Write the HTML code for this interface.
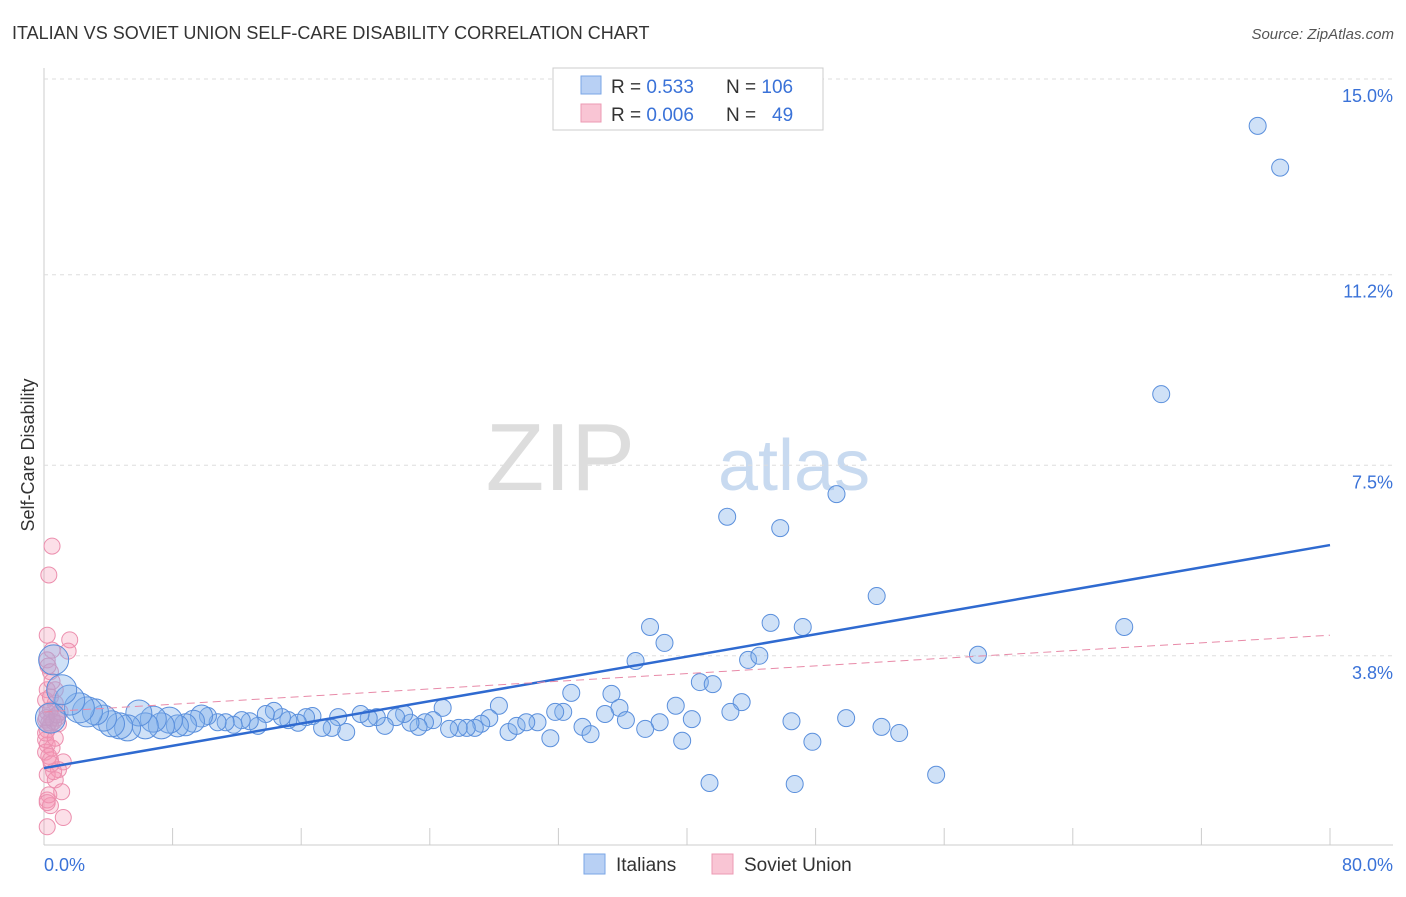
<!DOCTYPE html>
<html><head><meta charset="utf-8"><style>
body{margin:0;background:#fff;font-family:"Liberation Sans",sans-serif;}
svg text{font-family:"Liberation Sans",sans-serif;}
</style></head><body>
<svg id="chart" width="1406" height="892" viewBox="0 0 1406 892" xmlns="http://www.w3.org/2000/svg">
<text x="12" y="39" font-size="18" fill="#333">ITALIAN VS SOVIET UNION SELF-CARE DISABILITY CORRELATION CHART</text>
<text x="1394" y="39" font-size="15" fill="#555" font-style="italic" text-anchor="end">Source: ZipAtlas.com</text>
<text x="635" y="490" font-size="96" fill="#ddd" text-anchor="end" font-family="Liberation Serif">ZIP</text>
<text x="718" y="490" font-size="72" fill="#c8daf0">atlas</text>
<g id="grid"></g><g id="marks"></g>
<text transform="translate(34,455) rotate(-90)" font-size="18" fill="#333" text-anchor="middle">Self-Care Disability</text>
<g>
<rect x="553" y="68" width="270" height="62" fill="#fff" stroke="#ccc"/>
<rect x="581" y="76" width="20" height="18" fill="#b8d0f4" stroke="#7aa6e6"/>
<rect x="581" y="104" width="20" height="18" fill="#f9c5d4" stroke="#ec9ab3"/>
<text x="611" y="93" font-size="19" fill="#333">R = <tspan fill="#3a72d8">0.533</tspan><tspan x="726">N = </tspan><tspan fill="#3a72d8">106</tspan></text>
<text x="611" y="121" font-size="19" fill="#333">R = <tspan fill="#3a72d8">0.006</tspan><tspan x="726">N = </tspan><tspan fill="#3a72d8" x="772">49</tspan></text>
</g>
<g>
<rect x="584" y="854" width="21" height="20" fill="#b8d0f4" stroke="#7aa6e6"/>
<text x="616" y="871" font-size="19" fill="#333">Italians</text>
<rect x="712" y="854" width="21" height="20" fill="#f9c5d4" stroke="#ec9ab3"/>
<text x="744" y="871" font-size="19" fill="#333">Soviet Union</text>
</g>
</svg>
<script>
const yTicks=[3.8,7.5,11.2,15.0];
const yTickLabels=["3.8%","7.5%","11.2%","15.0%"];
const xTickLabels=["0.0%","80.0%"];
const italianX=[75.5,76.9,69.5,49.3,42.5,45.8,51.8,67.2,45.2,47.2,37.7,38.6,36.8,43.8,44.5,58.1,40.8,41.6,32.8,35.3,28.3,24.8,39.3,43.4,35.8,42.7,34.9,32.3,31.8,40.3,36.2,38.3,46.5,49.9,52.1,53.2,33.5,34.0,37.4,39.7,47.8,31.5,28.9,29.4,30.7,30.0,27.7,27.2,26.8,26.3,25.8,25.2,24.2,23.7,23.3,22.8,22.4,21.9,21.2,20.7,20.2,19.7,18.8,18.3,17.9,17.3,16.7,16.3,15.8,15.2,14.8,14.3,13.8,13.3,12.8,12.3,11.8,11.3,10.8,10.2,9.8,9.3,8.8,8.3,7.8,7.3,6.8,6.3,5.9,5.2,4.7,4.2,3.7,3.2,2.7,2.2,1.6,1.1,0.6,0.4,55.5,41.4,46.7];
const italianY=[14.09,13.28,8.88,6.94,6.50,6.28,4.96,4.36,4.44,4.36,4.36,4.05,3.70,3.72,3.80,3.82,3.29,3.25,3.08,3.06,2.83,2.79,2.83,2.90,2.79,2.71,2.67,2.71,2.71,2.57,2.55,2.51,2.53,2.59,2.42,2.30,2.42,2.28,2.38,2.15,2.13,2.20,2.32,2.44,2.51,2.51,2.59,2.48,2.40,2.40,2.40,2.38,2.55,2.51,2.42,2.50,2.67,2.61,2.44,2.61,2.59,2.67,2.32,2.61,2.40,2.40,2.63,2.61,2.50,2.55,2.61,2.73,2.67,2.44,2.53,2.55,2.46,2.51,2.51,2.63,2.63,2.53,2.46,2.44,2.55,2.44,2.57,2.44,2.69,2.40,2.44,2.48,2.59,2.71,2.71,2.79,2.94,3.14,3.72,2.59,1.49,1.33,1.31];
const sovietX=[0.5,0.3,0.2,1.6,1.5,0.5,0.2,0.4,0.2,0.1,0.7,0.2,0.5,0.8,0.1,0.4,0.2,0.5,0.1,0.4,1.2,0.9,0.2,0.7,1.1,0.2,0.4,1.2,0.2,0.4,0.2,0.7,1.0,0.1,0.3,0.3,0.6,0.9,0.15,0.5,0.3,0.6,0.2,0.8,0.4,0.1,0.7,0.25,0.45];
const sovietY=[5.93,5.37,4.20,4.11,3.89,3.91,3.72,3.49,3.14,2.94,2.88,2.71,2.59,2.59,2.55,2.46,2.07,2.01,1.93,1.78,1.74,1.59,1.49,1.39,1.16,1.00,0.89,0.66,0.48,2.75,2.36,3.14,2.71,2.17,1.10,2.50,2.52,2.48,2.60,3.30,1.85,1.55,0.95,2.65,3.00,2.30,2.20,3.60,1.70];
const italianTrend=[1.62,5.95];
const sovietTrend=[2.71,4.20];
const xs=v=>44+v*16.075, ys=v=>851.5-v*51.5;
const NS="http://www.w3.org/2000/svg";
function mk(t,a,p){const e=document.createElementNS(NS,t);for(const k in a)e.setAttribute(k,a[k]);p.appendChild(e);return e;}
const grid=document.getElementById('grid'), marks=document.getElementById('marks');
mk('line',{x1:44,y1:68,x2:44,y2:845,stroke:'#ccc'},grid);
mk('line',{x1:44,y1:845,x2:1393,y2:845,stroke:'#ccc'},grid);
for(let i=1;i<=10;i++){const x=xs(i*8);const t=mk('line',{x1:x,y1:828,x2:x,y2:845,stroke:'#ccc'},grid);}
yTicks.forEach((v,i)=>{const y=ys(v);const g=mk('line',{x1:44,y1:y,x2:1393,y2:y,stroke:'#ddd','stroke-dasharray':'4,4'},grid);
const t=mk('text',{x:1393,y:y+23,'font-size':18,fill:'#3a72d8','text-anchor':'end'},grid);t.textContent=yTickLabels[i];});
let t1=mk('text',{x:44,y:871,'font-size':18,fill:'#3a72d8'},grid);t1.textContent=xTickLabels[0];
let t2=mk('text',{x:1393,y:871,'font-size':18,fill:'#3a72d8','text-anchor':'end'},grid);t2.textContent=xTickLabels[1];
sovietX.forEach((x,i)=>{const c=mk('circle',{cx:xs(x),cy:ys(sovietY[i]),r:8,fill:'rgba(244,150,180,0.3)',stroke:'#ec8fae','stroke-width':1},marks);});
italianX.forEach((x,i)=>{const r=x<3?15:x<8?13:x<10?11:8.5;const c=mk('circle',{cx:xs(x),cy:ys(italianY[i]),r:r,fill:'rgba(130,175,235,0.38)',stroke:'#5a8fdc','stroke-width':1},marks);});
let l1=mk('line',{x1:xs(0),y1:ys(italianTrend[0]),x2:xs(80),y2:ys(italianTrend[1]),stroke:'#2f6ad0','stroke-width':2.5},marks);
let l2=mk('line',{x1:xs(0),y1:ys(sovietTrend[0]),x2:xs(80),y2:ys(sovietTrend[1]),stroke:'#e88aa8','stroke-width':1,'stroke-dasharray':'8,5'},marks);
</script>
</body></html>
